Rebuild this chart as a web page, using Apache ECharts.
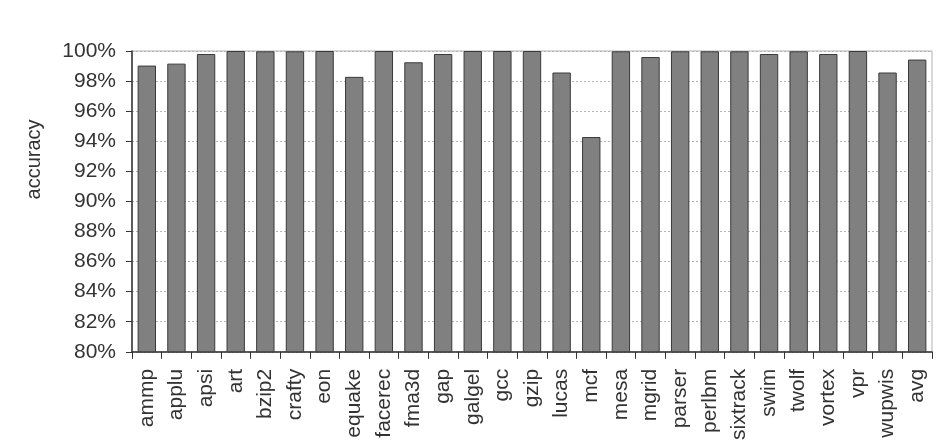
<!DOCTYPE html>
<html>
<head>
<meta charset="utf-8">
<script src="https://cdn.jsdelivr.net/npm/echarts@6/dist/echarts.min.js"></script>
<style>
  html, body { margin: 0; padding: 0; background: #fff; }
  #myChart { width: 940px; height: 443px; }
</style>
</head>
<body>
<div id="myChart"></div>
<script>
// benchmarks on the x axis
var benchmarks = ['ammp', 'applu', 'apsi', 'art', 'bzip2', 'crafty', 'eon', 'equake', 'facerec', 'fma3d',
  'gap', 'galgel', 'gcc', 'gzip', 'lucas', 'mcf', 'mesa', 'mgrid', 'parser', 'perlbm',
  'sixtrack', 'swim', 'twolf', 'vortex', 'vpr', 'wupwis', 'avg'];

// accuracy in percent
var accuracy = [99.03, 99.16, 99.8, 100, 99.98, 99.98, 100, 98.28, 100, 99.25,
  99.8, 100, 100, 100, 98.57, 94.28, 99.98, 99.6, 99.98, 99.98,
  99.98, 99.8, 99.98, 99.8, 100, 98.57, 99.43];

// y axis range and step
var yMin = 80;
var yMax = 100;
var yStep = 2;

var myChart = echarts.init(document.getElementById('myChart'));

var font = 'Liberation Sans, Arial, sans-serif';

var option = {
  animation: false,
  backgroundColor: '#fff',
  grid: {
    left: 132,
    right: 8,
    top: 51,
    bottom: 89,
    show: true,
    borderColor: '#b0b0b0',
    borderWidth: 1
  },
  xAxis: {
    type: 'category',
    data: benchmarks,
    axisLine: { lineStyle: { color: '#333', width: 1.5 } },
    axisTick: { show: true, length: 7, lineStyle: { color: '#333' } },
    axisLabel: {
      rotate: 90,
      margin: 17,
      fontFamily: font,
      fontSize: 21,
      color: '#333',
      interval: 0
    },
    splitLine: { show: false }
  },
  yAxis: {
    type: 'value',
    min: yMin,
    max: yMax,
    interval: yStep,
    name: 'accuracy',
    nameLocation: 'middle',
    nameGap: 88,
    nameRotate: 90,
    nameTextStyle: {
      fontFamily: font,
      fontSize: 20,
      color: '#333',
      padding: [0, 0, 0, 84]
    },
    axisLine: { show: true, lineStyle: { color: '#333', width: 1.5 } },
    axisTick: { show: true, length: 6, lineStyle: { color: '#333' } },
    axisLabel: {
      formatter: '{value}%',
      margin: 16,
      fontFamily: font,
      fontSize: 21,
      color: '#333'
    },
    splitLine: {
      show: true,
      lineStyle: { color: '#b5b5b5', type: [2, 2], width: 1 }
    }
  },
  series: [{
    type: 'bar',
    data: accuracy,
    barWidth: '62%',
    itemStyle: {
      color: '#808080',
      borderColor: '#3a3a3a',
      borderWidth: 1
    }
  }]
};

myChart.setOption(option);
</script>
</body>
</html>
